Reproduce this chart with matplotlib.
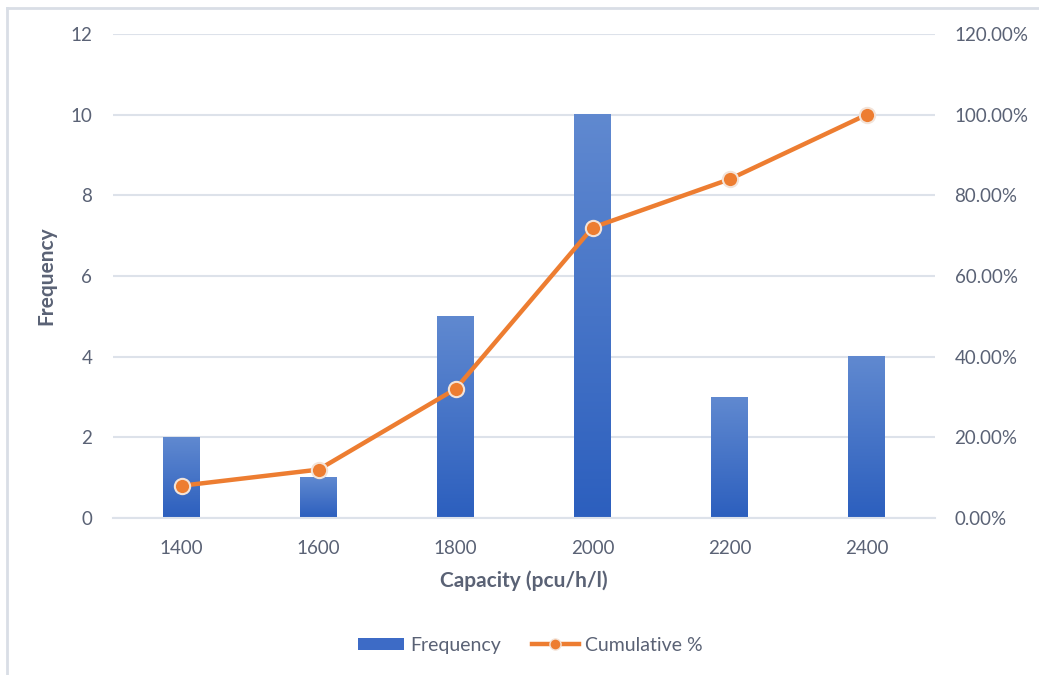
import numpy as np
import matplotlib
matplotlib.use("Agg")
import matplotlib.pyplot as plt
from matplotlib.colors import LinearSegmentedColormap
from matplotlib.lines import Line2D
from matplotlib.patches import Patch
from matplotlib.ticker import FuncFormatter

categories = ["1400", "1600", "1800", "2000", "2200", "2400"]
frequency = [2, 1, 5, 10, 3, 4]
cumulative_pct = [8.0, 12.0, 32.0, 72.0, 84.0, 100.0]

plt.rcParams['font.family'] = ['Lato', 'DejaVu Sans']
txt = '#5A6275'
grid_c = '#DDE2EA'
orange = '#ED7D31'

fig = plt.figure(figsize=(10.39, 6.75), dpi=100)
ax = fig.add_axes([0.1088, 0.2326, 0.7912, 0.717])
ax2 = ax.twinx()

x = np.arange(len(categories))
bw = 0.27
bars = ax.bar(x, frequency, width=bw, color='#4472C4', zorder=2)
cmap = LinearSegmentedColormap.from_list('g', ['#2C5FBE', '#6089D0'])
grad = np.linspace(0, 1, 256).reshape(-1, 1)
for b in bars:
    b.set_facecolor('none')
    b.set_edgecolor('none')
    ax.imshow(grad, cmap=cmap, origin='lower', aspect='auto', zorder=2,
              extent=[b.get_x(), b.get_x() + b.get_width(), 0, b.get_height()])

ax.set_xlim(-0.5, len(categories) - 0.5)
ax.set_ylim(0, 12)
ax.set_yticks(range(0, 13, 2))
ax.set_xticks(x)
ax.set_xticklabels(categories)
ax.yaxis.grid(True, color=grid_c, linewidth=1.5, zorder=0)
ax.set_axisbelow(True)
for s in ax.spines.values():
    s.set_visible(False)
for s in ax2.spines.values():
    s.set_visible(False)
ax.spines['bottom'].set_visible(True)
ax.spines['bottom'].set_color(grid_c)
ax.spines['bottom'].set_linewidth(1.5)
ax.tick_params(axis='both', length=0, labelsize=13.5, colors=txt)
ax.tick_params(axis='x', pad=15.5)
ax.tick_params(axis='y', pad=15)

ax2.plot(x, cumulative_pct, color=orange, linewidth=3.2, marker='o',
         markersize=11, markerfacecolor=orange, markeredgecolor='#F3E3D8',
         markeredgewidth=1.5, zorder=3, solid_capstyle='round')
ax2.set_ylim(0, 120)
ax2.set_yticks(range(0, 121, 20))
ax2.yaxis.set_major_formatter(FuncFormatter(lambda v, p: f"{v:.2f}%"))
ax2.tick_params(axis='y', length=0, labelsize=13.5, colors=txt, pad=14)

ax.set_xlabel('Capacity (pcu/h/l)', fontsize=15, fontweight='bold', color=txt, labelpad=10)
ax.set_ylabel('Frequency', fontsize=15, fontweight='bold', color=txt, labelpad=10)

handles = [Patch(facecolor='#3D6BC6', edgecolor='none'),
           Line2D([0], [0], color=orange, linewidth=3.2, marker='o', markersize=8,
                  markerfacecolor=orange, markeredgecolor='#F3E3D8')]
leg = fig.legend(handles, ['Frequency', 'Cumulative %'], loc='center',
                 bbox_to_anchor=(0.51, 0.044), ncol=2, frameon=False,
                 fontsize=14, handlelength=2.4, handleheight=0.6, columnspacing=1.6,
                 handletextpad=0.3)
for t in leg.get_texts():
    t.set_color(txt)

# chart border (top and left)
fig.add_artist(Line2D([7/1039, 1], [1 - 8/675, 1 - 8/675], color='#D9DEE6', linewidth=2, transform=fig.transFigure))
fig.add_artist(Line2D([7/1039, 7/1039], [0, 1 - 8/675], color='#D9DEE6', linewidth=2, transform=fig.transFigure))

fig.savefig('out.png', dpi=100)
